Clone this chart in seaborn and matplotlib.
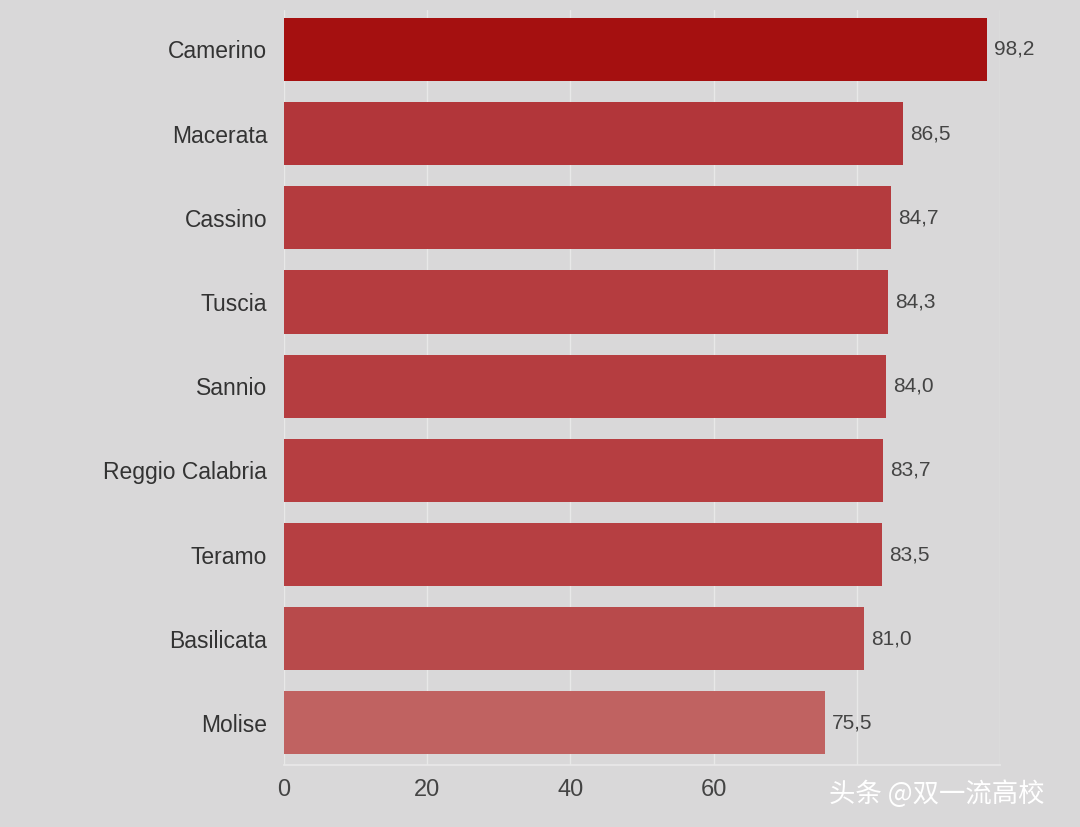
import matplotlib
matplotlib.use('Agg')
import matplotlib.pyplot as plt
import seaborn as sns
import pandas as pd

names = ['Camerino', 'Macerata', 'Cassino', 'Tuscia', 'Sannio',
         'Reggio Calabria', 'Teramo', 'Basilicata', 'Molise']
values = [98.2, 86.5, 84.7, 84.3, 84.0, 83.7, 83.5, 81.0, 75.5]
labels = ['98,2', '86,5', '84,7', '84,3', '84,0', '83,7', '83,5', '81,0', '75,5']
colors = ['#a51010', '#b2363a', '#b43b3e', '#b53c3f', '#b53d40',
          '#b63e41', '#b63f42', '#b84a4b', '#c06261']

sns.set_theme(style='white')
plt.rcParams['font.family'] = ['Liberation Sans', 'Noto Sans CJK SC', 'DejaVu Sans']

bg = '#d9d8d9'
df = pd.DataFrame({'name': names, 'value': values})

fig = plt.figure(figsize=(10.8, 8.27), dpi=100, facecolor=bg)
ax = fig.add_axes([0.263, 0.075, 0.663, 0.913])
ax.set_facecolor(bg)
sns.barplot(data=df, x='value', y='name', hue='name', palette=colors,
            legend=False, width=0.75, saturation=1, linewidth=0, ax=ax)

for i, (v, t) in enumerate(zip(values, labels)):
    ax.text(v + 1, i, t, va='center', ha='left', fontsize=15, color='#444444')

ax.set_xlim(0, 100)
ax.set_ylim(8.5, -0.47)
ax.set_xticks([0, 20, 40, 60, 80, 100])
ax.set_xticklabels(['0', '20', '40', '60', '', ''])
ax.xaxis.grid(True, color='#e8e8e8', linewidth=1)
ax.set_axisbelow(True)
ax.set_xlabel('')
ax.set_ylabel('')
ax.tick_params(axis='y', labelsize=16.5, colors='#333333', length=0, pad=12)
ax.tick_params(axis='x', labelsize=17, colors='#444444', length=0, pad=10)
for s in ax.spines.values():
    s.set_visible(False)
ax.spines['bottom'].set_visible(True)
ax.spines['bottom'].set_color('#e8e8e8')

fig.text(0.768, 0.03, '头条 @双一流高校', fontsize=19, color='white',
         family=['Noto Sans CJK SC', 'DejaVu Sans'])

fig.savefig('out.png', dpi=100, facecolor=bg)
